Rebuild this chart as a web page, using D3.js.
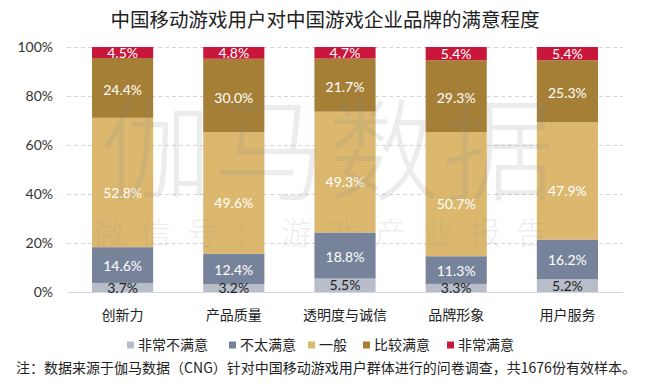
<!DOCTYPE html>
<html>
<head>
<meta charset="utf-8">
<script src="https://cdn.jsdelivr.net/npm/d3@7"></script>
<style>
  body { margin: 0; background: #fff; }
  svg { display: block; }
</style>
</head>
<body>
<svg id="chart"></svg>
<script>
	var categories = ['创新力', '产品质量', '透明度与诚信', '品牌形象', '用户服务'];
	var seriesNames = ['非常不满意', '不太满意', '一般', '比较满意', '非常满意'];
	var veryUnsatisfied = [3.7, 3.2, 5.5, 3.3, 5.2];
	var unsatisfied = [14.6, 12.4, 18.8, 11.3, 16.2];
	var neutral = [52.8, 49.6, 49.3, 50.7, 47.9];
	var satisfied = [24.4, 30.0, 21.7, 29.3, 25.3];
	var verySatisfied = [4.5, 4.8, 4.7, 5.4, 5.4];
	var yTicks = [0, 0.2, 0.4, 0.6, 0.8, 1];

	var colors = ['#b8bec9', '#77839a', '#dbb86e', '#a67f36', '#c8173b'];
	var textColors = ['#222', '#fff', '#fff', '#fff', '#fff'];
	var labelShift = [0, 1, 10, 2, 0];

	var W = 650, H = 388;
	var cjk = '"Noto Sans CJK SC", "Microsoft YaHei", sans-serif';
	var num = 'Lato, "Open Sans", sans-serif';

	var svg = d3.select('#chart').attr('width', W).attr('height', H);

	// build table rows for the stack
	var values = [veryUnsatisfied, unsatisfied, neutral, satisfied, verySatisfied];
	var rows = categories.map(function(c, i) {
		var r = { cat: c };
		seriesNames.forEach(function(s, j) { r[s] = values[j][i]; });
		return r;
	});

	var stack = d3.stack().keys(seriesNames).offset(d3.stackOffsetExpand);
	var layers = stack(rows);

	var x = d3.scaleBand().domain(categories).range([67, 623]).paddingInner(0.45).paddingOuter(0.225);
	var y = d3.scaleLinear().domain([0, 1]).range([292, 47]);

	// title
	svg.append('text')
		.attr('x', 325).attr('y', 27)
		.attr('text-anchor', 'middle')
		.style('font-family', cjk).style('font-size', '19.5px').style('fill', '#222')
		.text('中国移动游戏用户对中国游戏企业品牌的满意程度');

	// grid
	var yAxis = d3.axisLeft(y).tickValues(yTicks).tickFormat(d3.format('.0%')).tickSize(-(623 - 67)).tickPadding(14);
	var ga = svg.append('g').attr('transform', 'translate(67,0)').call(yAxis);
	ga.select('.domain').remove();
	ga.selectAll('.tick line')
		.style('stroke', '#d6d6d6')
		.style('stroke-dasharray', function(d) { return d === 0 ? null : '4,3'; })
		.style('shape-rendering', 'crispEdges');
	ga.selectAll('.tick text')
		.style('font-family', num).style('font-size', '14px').style('fill', '#333');

	// bars
	var g = svg.append('g');
	g.selectAll('g.layer')
		.data(layers)
		.enter().append('g')
		.attr('class', 'layer')
		.style('fill', function(d, i) { return colors[i]; })
		.selectAll('rect')
		.data(function(d) { return d; })
		.enter().append('rect')
		.attr('x', function(d) { return x(d.data.cat); })
		.attr('y', function(d) { return y(d[1]); })
		.attr('height', function(d) { return y(d[0]) - y(d[1]); })
		.attr('width', x.bandwidth());

	// watermark
	svg.append('text')
		.attr('x', 328).attr('y', 192)
		.attr('text-anchor', 'middle')
		.style('font-family', cjk).style('font-size', '112px').style('font-weight', 300)
		.style('letter-spacing', '2px')
		.style('fill', '#888').style('fill-opacity', 0.16)
		.text('伽马数据');
	svg.append('text')
		.attr('x', 328).attr('y', 244)
		.attr('text-anchor', 'middle')
		.style('font-family', cjk).style('font-size', '31px').style('font-weight', 300)
		.style('letter-spacing', '16px')
		.style('fill', '#888').style('fill-opacity', 0.16)
		.text('微信号：游戏产业报告');

	// value labels
	layers.forEach(function(layer, i) {
		g.append('g').selectAll('text')
			.data(layer)
			.enter().append('text')
			.attr('x', function(d) { return x(d.data.cat) + x.bandwidth() / 2; })
			.attr('y', function(d) { return (y(d[0]) + y(d[1])) / 2 + labelShift[i]; })
			.attr('dy', '0.36em')
			.attr('text-anchor', 'middle')
			.style('font-family', num).style('font-size', '14px')
			.style('fill', textColors[i])
			.text(function(d) { return d.data[layer.key].toFixed(1) + '%'; });
	});

	// category axis labels
	svg.append('g').selectAll('text')
		.data(categories)
		.enter().append('text')
		.attr('x', function(d) { return x(d) + x.bandwidth() / 2; })
		.attr('y', 320)
		.attr('text-anchor', 'middle')
		.style('font-family', cjk).style('font-size', '14px').style('fill', '#222')
		.text(function(d) { return d; });

	// legend
	var legendX = [127, 229, 308, 363, 447];
	var lg = svg.append('g').selectAll('g')
		.data(seriesNames)
		.enter().append('g')
		.attr('transform', function(d, i) { return 'translate(' + legendX[i] + ',345)'; });
	lg.append('rect').attr('x', 0).attr('y', -3.5).attr('width', 7).attr('height', 7)
		.style('fill', function(d, i) { return colors[i]; });
	lg.append('text').attr('x', 11).attr('dy', '0.36em')
		.style('font-family', cjk).style('font-size', '14px').style('fill', '#222')
		.text(function(d) { return d; });

	// footnote
	svg.append('text')
		.attr('x', 326).attr('y', 373)
		.attr('text-anchor', 'middle')
		.style('font-family', cjk).style('font-size', '14px').style('fill', '#222')
		.text('注：数据来源于伽马数据（CNG）针对中国移动游戏用户群体进行的问卷调查，共1676份有效样本。');
</script>
</body>
</html>
